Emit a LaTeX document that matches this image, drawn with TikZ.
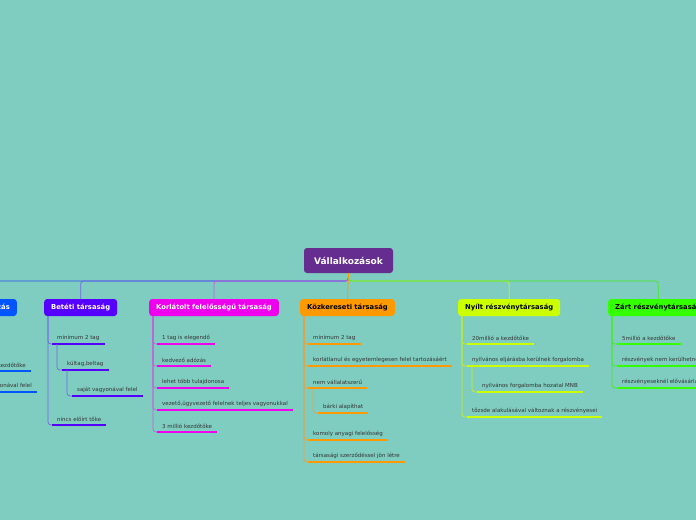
\documentclass[tikz,border=0pt]{standalone}
\usepackage{fontspec}
\setmainfont{DejaVu Sans}
\definecolor{bg}{RGB}{127,205,192}
\definecolor{rootc}{RGB}{102,45,145}
\definecolor{txt}{RGB}{51,51,51}
\definecolor{egy}{RGB}{0,85,255}
\definecolor{egyl}{RGB}{40,70,240}
\definecolor{bet}{RGB}{85,0,255}
\definecolor{betl}{RGB}{115,100,230}
\definecolor{kor}{RGB}{238,0,238}
\definecolor{korl}{RGB}{200,90,220}
\definecolor{koz}{RGB}{255,153,0}
\definecolor{kozl}{RGB}{235,160,60}
\definecolor{nyi}{RGB}{204,255,0}
\definecolor{nyil}{RGB}{200,240,30}
\definecolor{zar}{RGB}{51,255,0}
\definecolor{zarl}{RGB}{70,235,30}
\tikzset{
  rootn/.style={fill=rootc, text=white, rounded corners=3pt, minimum height=25pt,
    minimum width=89pt, inner sep=0pt, font=\fontsize{9}{10}\selectfont\bfseries},
  title/.style={rounded corners=3pt, minimum height=17pt, inner xsep=7pt,
    inner ysep=0pt, font=\fontsize{6.8}{8}\selectfont\bfseries, anchor=west},
  item/.style={anchor=south west, inner xsep=5pt, inner ysep=3.2pt,
    font=\fontsize{5.5}{6.5}\selectfont, text=txt},
  ul/.style={append after command={(\tikzlastnode.south west) edge[draw=#1,
    line width=2pt] (\tikzlastnode.south east)}},
  branch/.style={draw=#1, line width=0.8pt, rounded corners=3pt},
  conn/.style={draw=#1, line width=0.7pt, rounded corners=3pt},
}
\begin{document}
\begin{tikzpicture}[x=1pt,y=-1pt]
\fill[bg] (0,0) rectangle (696,520);
\useasboundingbox (0,0) rectangle (696,520);
\clip (0,0) rectangle (696,520);

% main nodes
\node[rootn] (root) at (348.5,260.5) {Vállalkozások};
\node[title, fill=egy, text=white, anchor=east] (eg) at (17,307.5) {Egyéni vállalkozás};
\node[title, fill=bet, text=white] (bt) at (44,307.5) {Betéti társaság};
\node[title, fill=kor, text=white] (kt) at (149,307.5) {Korlátolt felelősségű társaság};
\node[title, fill=koz, text=black] (kz) at (300,307.5) {Közkereseti társaság};
\node[title, fill=nyi, text=black] (ny) at (458,307.5) {Nyílt részvénytársaság};
\node[title, fill=zar, text=black] (zr) at (608,307.5) {Zárt részvénytársaság};

% branches from root
\coordinate (hub) at (348.5,281);
\draw[branch=egyl] (root.south) -- (hub) -| (eg.north);
\draw[branch=betl] (root.south) -- (hub) -| (bt.north);
\draw[branch=korl] (root.south) -- (hub) -| (kt.north);
\draw[branch=nyil] (root.south) -- (hub) -| (ny.north);
\draw[branch=zarl] (root.south) -- (hub) -| (zr.north);
\draw[branch=koz] (root.south) -- (kz.north);

% Egyeni
\node[item, ul=egy, anchor=south east] (e1) at (31,371) {nincs kötelező kezdőtőke};
\node[item, ul=egy, anchor=south east] (e2) at (37,392) {teljes vagyonával felel};
\draw[conn=egyl] ([xshift=4pt]eg.south west) |- (e1.south west);
\draw[conn=egyl] ([xshift=4pt]eg.south west) |- (e2.south west);

% Beteti
\node[item, ul=bet] (b1) at (52,344) {minimum 2 tag};
\node[item, ul=bet] (b2) at (62,370) {kültag,beltag};
\node[item, ul=bet] (b3) at (72,396) {saját vagyonával felel};
\node[item, ul=bet] (b4) at (52,425) {nincs előírt tőke};
\draw[conn=betl] ([xshift=4pt]bt.south west) |- (b1.south west);
\draw[conn=betl] ([xshift=4pt]bt.south west) |- (b4.south west);
\draw[conn=betl] ([xshift=5pt]b1.south west) |- (b2.south west);
\draw[conn=betl] ([xshift=5pt]b2.south west) |- (b3.south west);

% Korlatolt
\node[item, ul=kor] (k1) at (157,344) {1 tag is elegendő};
\node[item, ul=kor] (k2) at (157,366) {kedvező adózás};
\node[item, ul=kor] (k3) at (157,388) {lehet több tulajdonosa};
\node[item, ul=kor] (k4) at (157,410) {vezető,ügyvezető felelnek teljes vagyonukkal};
\node[item, ul=kor] (k5) at (157,432) {3 millió kezdőtőke};
\foreach \n in {k1,k2,k3,k4,k5}
  \draw[conn=korl] ([xshift=4pt]kt.south west) |- (\n.south west);

% Kozkereseti
\node[item, ul=koz] (z1) at (308,344) {minimum 2 tag};
\node[item, ul=koz] (z2) at (308,366) {korlátlanul és egyetemlegesen felel tartozásáért};
\node[item, ul=koz] (z3) at (308,388) {nem vállalatszerű};
\node[item, ul=koz] (z4) at (318,413) {bárki alapíthat};
\node[item, ul=koz] (z5) at (308,440) {komoly anyagi felelősség};
\node[item, ul=koz] (z6) at (308,462) {társasági szerződéssel jön létre};
\foreach \n in {z1,z2,z3,z5,z6}
  \draw[conn=kozl] ([xshift=4pt]kz.south west) |- (\n.south west);
\draw[conn=kozl] ([xshift=5pt]z3.south west) |- (z4.south west);

% Nyilt
\node[item, ul=nyi] (n1) at (467,344) {20millió a kezdőtőke};
\node[item, ul=nyi] (n2) at (467,366) {nyilvános eljárásba kerülnek forgalomba};
\node[item, ul=nyi] (n3) at (477,392) {nyilvános forgalomba hozatal MNB};
\node[item, ul=nyi] (n4) at (467,417) {tőzsde alakulásával változnak a részvényesei};
\foreach \n in {n1,n2,n4}
  \draw[conn=nyil] ([xshift=4pt]ny.south west) |- (\n.south west);
\draw[conn=nyil] ([xshift=5pt]n2.south west) |- (n3.south west);

% Zart
\node[item, ul=zar] (r1) at (617,344) {5millió a kezdőtőke};
\node[item, ul=zar] (r2) at (617,366) {részvények nem kerülhetnek forgalomba};
\node[item, ul=zar] (r3) at (617,388) {részvényeseknél elővásárlási jog};
\foreach \n in {r1,r2,r3}
  \draw[conn=zarl] ([xshift=4pt]zr.south west) |- (\n.south west);
\end{tikzpicture}
\end{document}
